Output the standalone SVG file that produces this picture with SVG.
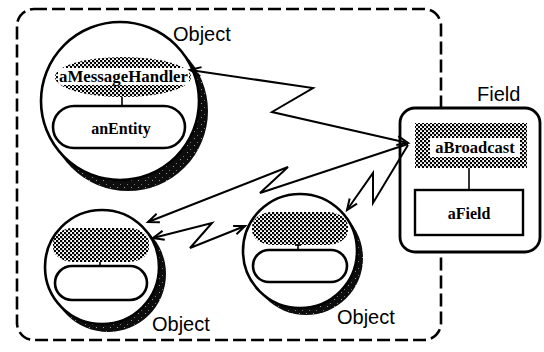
<svg xmlns="http://www.w3.org/2000/svg" width="544" height="352" viewBox="0 0 544 352">
  <style>
    .outline { fill: #fff; stroke: #000; stroke-width: 2.6; }
    .shadow { fill: url(#grain); }
    .hatch { fill: url(#hatch); }
    .box { fill: #fff; stroke: #000; stroke-width: 2.4; }
    .tick { stroke: #000; stroke-width: 1.6; fill: none; }
    .serif { font-family: "Liberation Serif", "Times New Roman", serif; font-weight: bold; fill: #000; text-anchor: middle; }
    .sans { font-family: "Liberation Sans", Arial, sans-serif; fill: #000; font-size: 20px; }
    .bolt { fill: none; stroke: #000; stroke-width: 2; stroke-linejoin: miter; marker-end: url(#head); }
    .both { marker-start: url(#head); }
  </style>
  <defs>
    <pattern id="hatch" width="4" height="4" patternUnits="userSpaceOnUse">
      <rect x="0" y="0" width="2.2" height="2.2" fill="#000"/>
      <rect x="2" y="2" width="2.2" height="2.2" fill="#000"/>
    </pattern>
    <pattern id="grain" width="7" height="7" patternUnits="userSpaceOnUse">
      <rect width="7" height="7" fill="#0d0d0d"/>
      <rect x="1" y="2" width="1" height="1" fill="#777"/>
      <rect x="5" y="5" width="1" height="1" fill="#999"/>
    </pattern>
    <marker id="head" markerUnits="userSpaceOnUse" markerWidth="16" markerHeight="14" viewBox="-13 -7 16 14" refX="0" refY="0" orient="auto-start-reverse">
      <path d="M-11,-4.5 L0,0 L-11,4.5" fill="none" stroke="#000" stroke-width="2"/>
    </marker>
  </defs>

  <rect width="544" height="352" fill="#fff"/>

  <!-- object boundary -->
  <rect id="boundary" x="17" y="9" width="424" height="331" rx="17" fill="none" stroke="#000" stroke-width="2.6" stroke-dasharray="13 5"/>

  <!-- object with message handler and entity -->
  <g id="object-top">
    <circle class="shadow" cx="128" cy="111" r="80"/>
    <circle class="outline" cx="120" cy="101" r="79"/>
    <ellipse class="hatch" cx="123" cy="77" rx="68" ry="20"/>
    <rect x="58" y="68" width="131" height="17" rx="4" fill="#fff"/>
    <text class="serif" x="123.5" y="82" font-size="16" textLength="129" lengthAdjust="spacingAndGlyphs">aMessageHandler</text>
    <line class="tick" x1="122" y1="97" x2="122" y2="106"/>
    <rect class="outline" x="53" y="106" width="132" height="42" rx="21"/>
    <text class="serif" x="121" y="134" font-size="16">anEntity</text>
    <text class="sans" x="173" y="41">Object</text>
  </g>

  <!-- object, lower left -->
  <g id="object-left">
    <circle class="shadow" cx="108" cy="274" r="58"/>
    <circle class="outline" cx="102" cy="267" r="57"/>
    <rect class="hatch" x="53" y="228" width="96" height="34" rx="20" ry="15"/>
    <line class="tick" x1="100" y1="262" x2="100" y2="267"/>
    <rect class="outline" x="55" y="266" width="92" height="34" rx="17"/>
    <text class="sans" x="152" y="331">Object</text>
  </g>

  <!-- object, lower middle -->
  <g id="object-middle">
    <circle class="shadow" cx="306" cy="258" r="57"/>
    <circle class="outline" cx="300" cy="251" r="57"/>
    <rect class="hatch" x="252" y="212" width="96" height="33" rx="20" ry="15"/>
    <line class="tick" x1="298" y1="245" x2="298" y2="251"/>
    <line class="tick" x1="295" y1="245" x2="301" y2="245"/>
    <rect class="outline" x="253" y="250" width="94" height="32" rx="16"/>
    <text class="sans" x="337" y="324">Object</text>
  </g>

  <!-- field with broadcaster -->
  <g id="field">
    <rect x="400" y="108" width="140" height="144" rx="15" fill="#fff" stroke="#000" stroke-width="2.8"/>
    <rect class="hatch" x="415" y="123" width="112" height="45"/>
    <rect x="430" y="138" width="90" height="19" fill="#fff"/>
    <text class="serif" x="475" y="153" font-size="16.5">aBroadcast</text>
    <line class="tick" x1="469" y1="168" x2="469" y2="190"/>
    <rect class="box" x="415" y="190" width="108" height="45"/>
    <text class="serif" x="469" y="219" font-size="16">aField</text>
    <text class="sans" x="477" y="101">Field</text>
  </g>

  <!-- message connectors -->
  <g id="connectors">
    <path class="bolt both" d="M408,143 L272,112 L313,88 L190,70"/>
    <path class="bolt" d="M408,144 L260,193 L288,167 L148,222"/>
    <path class="bolt" d="M408,145 L373,203 L373,173 L347,210"/>
    <path class="bolt both" d="M153,238 L212,223 L190,248 L245,226"/>
  </g>
</svg>
